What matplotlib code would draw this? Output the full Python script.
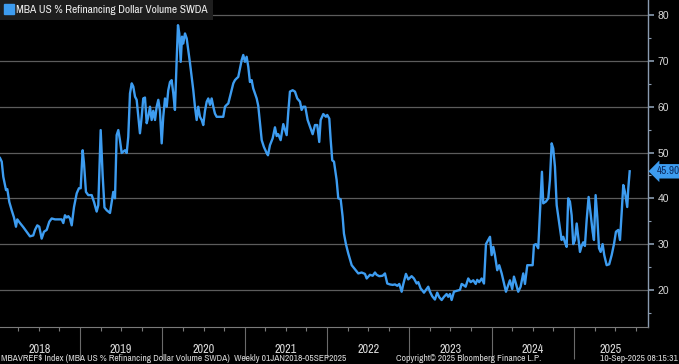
import numpy as np
import matplotlib
matplotlib.use('Agg')
import matplotlib.pyplot as plt
import matplotlib.transforms as mtransforms
from matplotlib.lines import Line2D

# =========================
# THEME SETTINGS
# =========================
BG_COLOR = '#000000'
LINE_COLOR = '#3d9cf0'
GRID_COLOR = '#5c5c5c'
TEXT_COLOR = '#d9d9d9'
AXIS_COLOR = '#8a9bb0'
LEGEND_BG = '#1e1e1e'
NARROW = ['Archivo Narrow', 'DejaVu Sans']
REGULAR = ['Liberation Sans', 'DejaVu Sans']

# =========================
# DATA (weekly; x = decimal year)
# =========================
dates = [
    2018.028, 2018.049, 2018.068, 2018.101, 2018.117, 2018.141, 2018.170, 2018.198, 2018.222, 2018.238,
    2018.271, 2018.311, 2018.352, 2018.392, 2018.432, 2018.453, 2018.481, 2018.505, 2018.534, 2018.562,
    2018.595, 2018.627, 2018.656, 2018.696, 2018.736, 2018.777, 2018.797, 2018.817, 2018.838, 2018.858,
    2018.878, 2018.899, 2018.927, 2018.960, 2018.987,
    2019.008, 2019.032, 2019.048, 2019.072, 2019.100, 2019.142, 2019.170, 2019.202, 2019.222, 2019.251,
    2019.275, 2019.297, 2019.324, 2019.364, 2019.404, 2019.425, 2019.445, 2019.465, 2019.485, 2019.506,
    2019.546, 2019.567, 2019.586, 2019.607, 2019.628, 2019.647, 2019.668, 2019.688, 2019.708, 2019.728,
    2019.749, 2019.768, 2019.789, 2019.810, 2019.829, 2019.850, 2019.870, 2019.890, 2019.911, 2019.931,
    2019.951, 2019.971, 2019.992,
    2020.011, 2020.032, 2020.053, 2020.072, 2020.093, 2020.113, 2020.133, 2020.153, 2020.174, 2020.190,
    2020.206, 2020.223, 2020.239, 2020.254, 2020.275, 2020.296, 2020.315, 2020.336, 2020.356, 2020.376,
    2020.396, 2020.417, 2020.436, 2020.457, 2020.478, 2020.497, 2020.518, 2020.539, 2020.558, 2020.579,
    2020.599, 2020.619, 2020.639, 2020.660, 2020.700, 2020.740, 2020.761, 2020.781, 2020.801, 2020.822,
    2020.842, 2020.862, 2020.882, 2020.903, 2020.922, 2020.943, 2020.964, 2020.983,
    2021.004, 2021.024, 2021.044, 2021.064, 2021.085, 2021.104, 2021.146, 2021.165, 2021.186, 2021.207,
    2021.234, 2021.267, 2021.283, 2021.307, 2021.340, 2021.368, 2021.389, 2021.408, 2021.437, 2021.469,
    2021.510, 2021.530, 2021.550, 2021.583, 2021.611, 2021.639, 2021.672, 2021.692, 2021.712, 2021.736,
    2021.765, 2021.793, 2021.826, 2021.854, 2021.882, 2021.906, 2021.923, 2021.955, 2021.987,
    2022.003, 2022.028, 2022.045, 2022.064, 2022.085, 2022.117, 2022.137, 2022.166, 2022.190, 2022.206,
    2022.230, 2022.258, 2022.300, 2022.340, 2022.380, 2022.421, 2022.461, 2022.482, 2022.522, 2022.555,
    2022.583, 2022.603, 2022.635, 2022.676, 2022.704, 2022.732, 2022.765, 2022.798, 2022.826, 2022.854,
    2022.878, 2022.907, 2022.926, 2022.959, 2022.987,
    2023.028, 2023.056, 2023.089, 2023.109, 2023.138, 2023.162, 2023.178, 2023.202, 2023.230, 2023.251,
    2023.279, 2023.311, 2023.339, 2023.364, 2023.393, 2023.421, 2023.453, 2023.473, 2023.494, 2023.514,
    2023.542, 2023.575, 2023.615, 2023.636, 2023.655, 2023.684, 2023.716, 2023.745, 2023.777, 2023.806,
    2023.825, 2023.849, 2023.879, 2023.907, 2023.931, 2023.959, 2023.980,
    2024.000, 2024.020, 2024.040, 2024.068, 2024.092, 2024.122, 2024.150, 2024.174, 2024.202, 2024.222,
    2024.250, 2024.271, 2024.295, 2024.323, 2024.352, 2024.384, 2024.405, 2024.433, 2024.465, 2024.498,
    2024.514, 2024.538, 2024.566, 2024.587, 2024.611, 2024.627, 2024.660, 2024.688, 2024.708, 2024.729,
    2024.748, 2024.769, 2024.790, 2024.809, 2024.830, 2024.850, 2024.870, 2024.890, 2024.911, 2024.930,
    2024.951, 2024.972, 2024.991,
    2025.012, 2025.033, 2025.052, 2025.073, 2025.093, 2025.113, 2025.133, 2025.154, 2025.178, 2025.202,
    2025.227, 2025.243, 2025.263, 2025.283, 2025.304, 2025.324, 2025.348, 2025.368, 2025.397, 2025.428,
    2025.458, 2025.486, 2025.510, 2025.538, 2025.559, 2025.579, 2025.599, 2025.619, 2025.647, 2025.660,
    2025.677,
]

refi_share = [
    48.8, 48.0, 44.7, 41.8, 42.0, 39.2, 37.4, 35.8, 33.8, 35.4,
    34.6, 33.7, 32.7, 31.7, 31.9, 33.1, 34.1, 33.8, 31.2, 32.7,
    33.1, 34.9, 35.6, 35.4, 35.4, 35.4, 34.6, 36.3, 35.8, 36.1,
    35.6, 34.1, 38.1, 41.1, 42.2,
    42.2, 50.5, 47.7, 41.4, 40.7, 40.7, 39.2, 37.1, 38.5, 54.9,
    45.0, 38.0, 37.4, 36.8, 41.4, 40.0, 53.8, 54.9, 52.7, 49.9,
    50.5, 49.9, 53.4, 62.9, 65.1, 64.4, 62.2, 61.5, 57.8, 54.2,
    57.8, 61.8, 62.0, 56.4, 57.8, 60.0, 57.1, 59.1, 57.1, 60.0,
    61.5, 59.1, 52.0,
    57.8, 61.8, 60.0, 63.6, 65.4, 65.8, 62.9, 59.3, 70.2, 77.8,
    76.0, 69.8, 75.3, 73.8, 76.0, 74.9, 72.4, 69.5, 66.5, 63.6,
    60.0, 57.1, 60.0, 57.8, 57.1, 56.0, 59.1, 61.1, 61.8, 60.4,
    61.8, 60.0, 58.5, 57.8, 57.8, 57.8, 60.0, 60.4, 60.7, 62.2,
    63.6, 65.1, 65.8, 66.2, 66.5, 68.4, 70.2, 71.3,
    69.8, 70.9, 68.7, 65.4, 65.8, 64.0, 61.8, 60.2, 56.4, 52.7,
    51.2, 49.9, 49.4, 51.6, 53.1, 55.5, 53.6, 54.0, 52.7, 56.2,
    53.8, 58.9, 63.3, 63.6, 63.3, 61.8, 61.1, 59.3, 60.0, 60.0,
    57.1, 55.7, 54.0, 56.0, 56.0, 52.3, 57.1, 58.4, 57.8,
    58.2, 57.4, 52.7, 48.3, 48.0, 44.0, 40.0, 39.8, 36.0, 32.3,
    30.0, 28.0, 25.4, 24.5, 23.6, 23.8, 23.5, 22.5, 23.3, 23.1,
    23.8, 23.3, 23.0, 23.1, 23.6, 21.4, 21.2, 21.1, 21.2, 20.9,
    21.3, 19.6, 21.2, 23.5, 22.3,
    23.0, 22.5, 21.4, 21.7, 20.3, 19.8, 19.4, 20.0, 20.7, 19.6,
    18.6, 17.9, 19.4, 18.4, 17.8, 18.5, 19.1, 18.5, 19.1, 17.8,
    19.6, 19.8, 20.0, 21.3, 21.1, 20.7, 22.5, 21.7, 22.1, 21.3,
    22.2, 21.7, 22.5, 21.4, 30.0, 30.9, 31.6,
    27.6, 29.4, 27.6, 24.3, 25.4, 23.6, 21.4, 19.6, 21.1, 22.1,
    20.2, 22.9, 21.4, 19.6, 20.7, 23.6, 21.3, 25.4, 25.4, 25.4,
    29.8, 30.0, 29.1, 36.7, 45.8, 38.9, 39.3, 40.0, 44.0, 52.0,
    50.9, 46.9, 38.5, 36.0, 33.4, 30.9, 31.6, 30.4, 29.4, 40.0,
    39.3, 36.3, 30.0,
    30.9, 34.5, 31.6, 28.3, 29.6, 30.4, 29.6, 35.2, 40.3, 36.7,
    32.7, 30.9, 40.7, 36.0, 29.1, 28.3, 30.0, 27.6, 25.4, 25.6,
    27.6, 30.0, 32.7, 33.1, 30.9, 36.7, 42.9, 41.4, 38.1, 42.2,
    45.9,
]

years = [2018, 2019, 2020, 2021, 2022, 2023, 2024, 2025]
y_ticks = [20, 30, 40, 50, 60, 70, 80]
last_value = 45.90

series_name = 'MBA US % Refinancing Dollar Volume SWDA'
footer_left = 'MBAVREF$ Index (MBA US % Refinancing Dollar Volume SWDA)  Weekly 01JAN2018-05SEP2025'
footer_mid = 'Copyright\u00a9 2025 Bloomberg Finance L.P.'
footer_right = '10-Sep-2025 08:15:31'

x_min, x_max = 2018.028, 2025.899

fig = plt.figure(figsize=(6.79, 3.64), dpi=100)
fig.patch.set_facecolor(BG_COLOR)
ax = fig.add_axes([0, 0.1016, 0.9543, 0.8984])
ax.set_facecolor(BG_COLOR)

ax.plot(np.array(dates), np.array(refi_share), color=LINE_COLOR, lw=1.7,
        solid_joinstyle='round', zorder=3)

ax.set_xlim(x_min, x_max)
ax.set_ylim(11.9, 83.3)

# spines
for side in ['top', 'left']:
    ax.spines[side].set_visible(False)
ax.spines['right'].set_color(AXIS_COLOR)
ax.spines['right'].set_linewidth(1.0)
ax.spines['bottom'].set_color('#7a7a7a')
ax.spines['bottom'].set_linewidth(0.8)

# y axis on the right
ax.yaxis.tick_right()
ax.set_yticks(y_ticks)
ax.set_yticks(np.arange(15, 85, 5), minor=True)
ax.tick_params(axis='y', which='major', direction='out', length=4, width=1.2,
               color=AXIS_COLOR, pad=3, labelcolor=TEXT_COLOR, labelsize=7.5)
ax.tick_params(axis='y', which='minor', direction='out', length=2, width=0.8,
               color=AXIS_COLOR)
for lab in ax.get_yticklabels():
    lab.set_family(REGULAR)
ax.grid(axis='y', which='major', color=GRID_COLOR, lw=0.9)

# x axis: year labels centred in the visible part of each year (no tick marks)
edges = [x_min] + years[1:] + [x_max]
centers = [(a + b) / 2 for a, b in zip(edges[:-1], edges[1:])]
ax.set_xticks(centers)
ax.set_xticklabels([str(y) for y in years])
ax.tick_params(axis='x', which='major', length=0, pad=12, labelcolor=TEXT_COLOR,
               labelsize=8.8)
for lab in ax.get_xticklabels():
    lab.set_family(NARROW)

# year separators (long) and quarter ticks (short)
sep = ax.secondary_xaxis('bottom')
sep.set_xticks(years[1:])
sep.set_xticklabels([])
sep.set_xticks(np.arange(years[0] + 0.25, x_max, 0.25), minor=True)
sep.tick_params(which='major', length=23, width=0.8, color='#6a6a6a')
sep.tick_params(which='minor', length=3, width=0.8, color='#7a7a7a')
sep.spines['bottom'].set_visible(False)

# legend
handle = Line2D([], [], marker='s', color=LINE_COLOR, ls='none', markersize=7)
leg = ax.legend([handle], [series_name], loc='upper left', bbox_to_anchor=(0, 1),
                borderaxespad=0, frameon=True, fancybox=False, handlelength=0.6,
                handletextpad=0.35, borderpad=0.45,
                prop={'family': NARROW, 'size': 8.2})
leg.get_frame().set_facecolor(LEGEND_BG)
leg.get_frame().set_edgecolor('none')
leg.get_frame().set_alpha(1)
for t in leg.get_texts():
    t.set_color('#f0f0f0')

# last value tag
trans = mtransforms.blended_transform_factory(ax.transAxes, ax.transData)
ax.text(1.013, last_value, f'{last_value:.2f}', transform=trans, ha='left', va='center',
        fontsize=8, family=NARROW, color='#0b2a5e', clip_on=False, zorder=5,
        bbox=dict(boxstyle='larrow,pad=0.2', fc=LINE_COLOR, ec='none'))

# footer
fig.text(0.002, 0.016, footer_left, ha='left', va='center', fontsize=6.8,
         family=NARROW, color=TEXT_COLOR)
fig.text(0.69, 0.016, footer_mid, ha='center', va='center', fontsize=6.8,
         family=NARROW, color=TEXT_COLOR)
fig.text(0.999, 0.016, footer_right, ha='right', va='center', fontsize=6.8,
         family=NARROW, color=TEXT_COLOR)

plt.savefig('out.png', dpi=100, facecolor=BG_COLOR)
